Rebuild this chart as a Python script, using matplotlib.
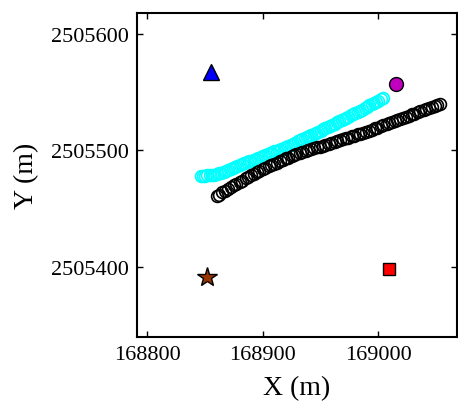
import matplotlib
matplotlib.use("Agg")
import matplotlib.pyplot as plt

plt.rcParams['font.family'] = ['Liberation Serif', 'DejaVu Serif']

# Track positions (easting / northing, metres)
track_a_x = [168846, 168848, 168850, 168852, 168854, 168856, 168858, 168860, 168862, 168864,
             168866, 168868, 168870, 168872, 168874, 168876, 168878, 168880, 168882, 168884,
             168886, 168888, 168890, 168892, 168894, 168896, 168898, 168900, 168902, 168904,
             168906, 168908, 168910, 168912, 168914, 168916, 168918, 168920, 168922, 168924,
             168926, 168928, 168930, 168932, 168934, 168936, 168938, 168940, 168942, 168944,
             168946, 168948, 168950, 168952, 168954, 168956, 168958, 168960, 168962, 168964,
             168966, 168968, 168970, 168972, 168974, 168976, 168978, 168980, 168982, 168984,
             168986, 168988, 168990, 168992, 168994, 168996, 168998, 169000, 169002, 169004]
track_a_y = [2505478.0, 2505478.0, 2505478.2, 2505478.5, 2505478.8, 2505479.0, 2505479.2, 2505479.8, 2505480.2, 2505480.6,
             2505481.2, 2505482.0, 2505483.0, 2505483.6, 2505484.6, 2505485.6, 2505486.4, 2505487.4, 2505488.2, 2505489.0,
             2505489.6, 2505490.4, 2505491.0, 2505492.0, 2505492.8, 2505493.4, 2505494.2, 2505495.0, 2505495.8, 2505496.6,
             2505497.4, 2505498.0, 2505499.0, 2505499.8, 2505500.6, 2505501.2, 2505502.0, 2505503.0, 2505503.8, 2505504.6,
             2505505.6, 2505506.6, 2505507.6, 2505508.6, 2505509.6, 2505510.6, 2505511.6, 2505512.6, 2505513.4, 2505514.2,
             2505515.0, 2505516.0, 2505517.0, 2505518.0, 2505519.0, 2505520.0, 2505521.0, 2505522.0, 2505523.0, 2505524.0,
             2505525.0, 2505526.0, 2505527.0, 2505528.0, 2505529.0, 2505530.0, 2505531.0, 2505532.0, 2505533.0, 2505534.0,
             2505535.0, 2505536.4, 2505537.6, 2505538.6, 2505539.6, 2505540.6, 2505541.6, 2505542.6, 2505543.8, 2505545.0]

track_b_x = [168860, 168862, 168865, 168867, 168870, 168872, 168875, 168877, 168880, 168882,
             168885, 168887, 168890, 168892, 168895, 168897, 168900, 168902, 168905, 168907,
             168910, 168912, 168915, 168917, 168920, 168922, 168925, 168927, 168929, 168932,
             168934, 168937, 168939, 168942, 168944, 168947, 168949, 168952, 168954, 168957,
             168959, 168962, 168964, 168967, 168969, 168972, 168974, 168977, 168979, 168982,
             168984, 168987, 168989, 168992, 168994, 168997, 168999, 169002, 169004, 169007,
             169009, 169012, 169014, 169016, 169019, 169021, 169024, 169026, 169029, 169031,
             169034, 169036, 169039, 169041, 169044, 169046, 169049, 169051, 169053]
track_b_y = [2505461.0, 2505462.0, 2505464.0, 2505465.2, 2505467.0, 2505468.2, 2505469.8, 2505471.0, 2505473.0, 2505474.0,
             2505475.8, 2505477.0, 2505478.6, 2505479.6, 2505481.2, 2505482.4, 2505484.0, 2505485.0, 2505486.4, 2505487.2,
             2505488.6, 2505489.4, 2505490.8, 2505491.6, 2505493.0, 2505493.8, 2505495.2, 2505496.0, 2505497.0, 2505498.0,
             2505498.6, 2505499.6, 2505500.2, 2505501.2, 2505501.8, 2505502.6, 2505503.2, 2505504.0, 2505504.6, 2505505.6,
             2505506.2, 2505507.2, 2505507.8, 2505508.8, 2505509.4, 2505510.4, 2505511.0, 2505512.0, 2505512.6, 2505513.6,
             2505514.2, 2505515.0, 2505515.8, 2505516.8, 2505517.6, 2505518.8, 2505519.6, 2505520.8, 2505521.6, 2505522.6,
             2505523.4, 2505524.6, 2505525.2, 2505526.0, 2505527.2, 2505528.0, 2505529.0, 2505529.8, 2505531.0, 2505531.6,
             2505532.8, 2505533.6, 2505534.6, 2505535.4, 2505536.6, 2505537.4, 2505538.4, 2505539.2, 2505540.0]

# Fixed stations
triangle_xy = (168855, 2505567)
circle_xy = (169015, 2505557)
star_xy = (168852, 2505391)
square_xy = (169009, 2505398)

x_ticks = [168800, 168900, 169000]
y_ticks = [2505400, 2505500, 2505600]

fig = plt.figure(figsize=(4.58, 4.14), dpi=100)
ax = fig.add_axes([0.299, 0.1836, 0.699, 0.7826])

ax.plot(track_a_x, track_a_y, linestyle='none', marker='o', markersize=8.5,
        markerfacecolor='none', markeredgecolor='cyan', markeredgewidth=1.2)
ax.plot(track_b_x, track_b_y, linestyle='none', marker='o', markersize=8.5,
        markerfacecolor='none', markeredgecolor='black', markeredgewidth=1.2)

ax.plot(*triangle_xy, marker='^', markersize=11, markerfacecolor='blue',
        markeredgecolor='black', markeredgewidth=1.0, linestyle='none')
ax.plot(*circle_xy, marker='o', markersize=10, markerfacecolor=(0.75, 0, 0.75),
        markeredgecolor='black', markeredgewidth=1.0, linestyle='none')
ax.plot(*star_xy, marker='*', markersize=15, markerfacecolor=(0.6, 0.2, 0.0),
        markeredgecolor='black', markeredgewidth=1.0, linestyle='none')
ax.plot(*square_xy, marker='s', markersize=9, markerfacecolor='red',
        markeredgecolor='black', markeredgewidth=1.0, linestyle='none')

ax.set_xlim(168791, 169068)
ax.set_ylim(2505339.6, 2505618)
ax.set_xticks(x_ticks)
ax.set_yticks(y_ticks)
ax.set_xticklabels([str(v) for v in x_ticks])
ax.set_yticklabels([str(v) for v in y_ticks])

ax.tick_params(direction='in', top=True, right=True, length=4, width=1.0,
               labelsize=16, pad=6)
for s in ax.spines.values():
    s.set_linewidth(1.5)

ax.set_xlabel('X (m)', fontsize=20, labelpad=8)
ax.set_ylabel('Y (m)', fontsize=20, labelpad=8)

fig.savefig('out.png', dpi=100)
